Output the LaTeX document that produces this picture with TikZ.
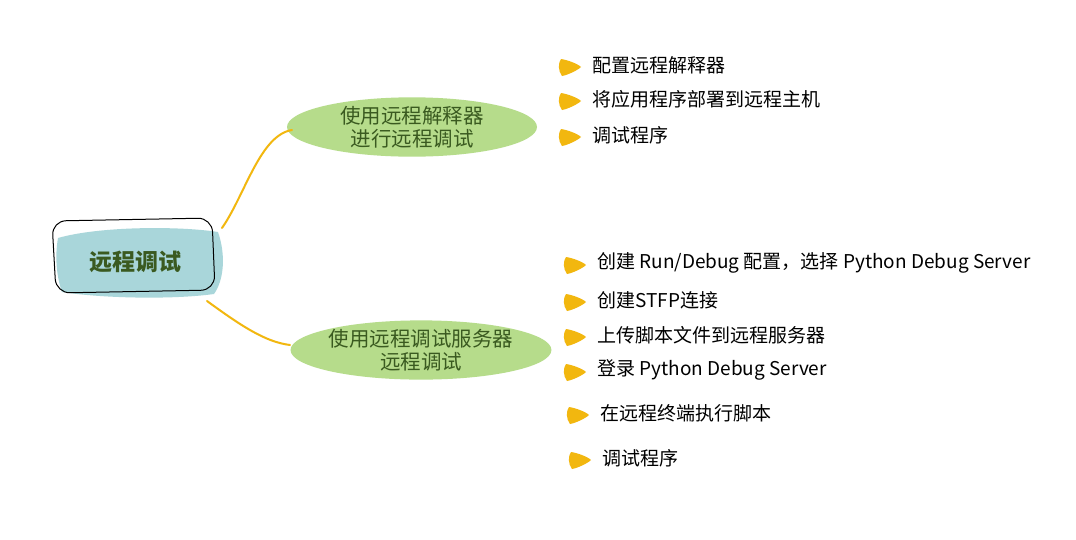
\documentclass[tikz,border=0pt]{standalone}
\usepackage{fontspec}
\setmainfont{Noto Sans CJK SC}
\usetikzlibrary{shapes.geometric}
\definecolor{teal1}{HTML}{A9D6DA}
\definecolor{green1}{HTML}{B6DC8B}
\definecolor{dgreen}{HTML}{3A5A20}
\definecolor{ylw}{HTML}{F2B70F}
\tikzset{
  branch/.style={ellipse, fill=green1, minimum width=250pt, minimum height=52pt, inner sep=0pt, align=center, text=dgreen, font=\fontsize{20.5}{23}\selectfont},
  leaf/.style={anchor=west, inner sep=0pt, font=\fontsize{19}{21}\selectfont},
  conn/.style={draw=ylw, line width=2pt, line cap=round}
}
\newcommand{\bullettip}[2]{\fill[ylw, shift={(#1,#2)}] (-9,-8) .. controls (-2,-7) and (8,-3) .. (11,0) .. controls (8,3) and (-2,8) .. (-8,9) .. controls (-12,4) and (-12,-4) .. cycle;}
\begin{document}
\begin{tikzpicture}[x=1pt,y=-1pt]
\useasboundingbox (0,0) rectangle (1076,539);
\fill[white] (0,0) rectangle (1076,539);
% root
\fill[teal1] (58,238) .. controls (100,226) and (180,226) .. (218,232) .. controls (226,255) and (224,280) .. (214,294) .. controls (170,300) and (100,298) .. (62,292) .. controls (56,275) and (55,255) .. cycle;
\draw[black, line width=1pt, rounded corners=14pt] (52,221) -- (212,218) -- (215,290) -- (56,293) -- cycle;
\node[font=\bfseries\fontsize{23}{27}\selectfont, text=dgreen] (root) at (135,262) {远程调试};
% branches
\node[branch] (b1) at (412,127) {使用远程解释器\\进行远程调试};
\node[branch] (b2) at (421,350) {使用远程调试服务器\\远程调试};
\coordinate (r1) at (222,228);
\coordinate (r2) at (207,301);
\coordinate (e1) at (292,130);
\coordinate (e2) at (290,345);
\draw[conn] (r1) .. controls (245,195) and (260,135) .. (e1);
\draw[conn] (r2) .. controls (240,325) and (265,342) .. (e2);
% leaves
\foreach \x/\y/\t/\n in {570/67/配置远程解释器/l1, 570/101/将应用程序部署到远程主机/l2, 570/137/调试程序/l3,
  575/265/{创建 Run/Debug 配置，选择 Python Debug Server}/l4, 575/302/创建STFP连接/l5, 575/337/上传脚本文件到远程服务器/l6,
  575/372/登录 Python Debug Server/l7, 578/415/在远程终端执行脚本/l8, 580/460/调试程序/l9}{
  \bullettip{\x}{\y}
  \node[leaf] (\n) at (\x+22,\y-2) {\t};
}
\end{tikzpicture}
\end{document}
